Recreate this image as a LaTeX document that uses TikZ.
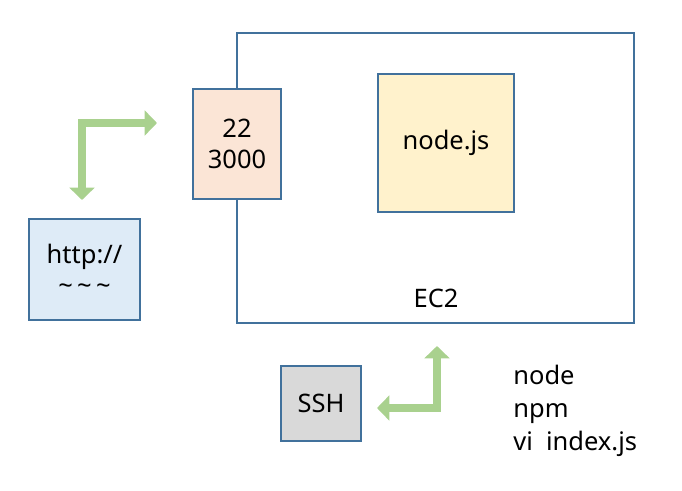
\documentclass[tikz,border=0pt]{standalone}
\usepackage{fontspec}
\setmainfont{Noto Sans}
\usetikzlibrary{arrows.meta}
\definecolor{edge}{HTML}{41719C}
\definecolor{port}{HTML}{FBE5D6}
\definecolor{engine}{HTML}{FFF2CC}
\definecolor{client}{HTML}{DEEBF7}
\definecolor{shell}{HTML}{D9D9D9}
\definecolor{flow}{HTML}{A9D18E}

\begin{document}
\begin{tikzpicture}[
    x=0.02cm, y=-0.02cm,
    block/.style={draw=edge, line width=1.1pt, text centered, align=center, font=\fontsize{14.5}{18}\selectfont},
    flowarrow/.style={draw=flow, line width=4.5pt, {Triangle[width=14pt,length=7pt]}-{Triangle[width=14pt,length=7pt]}},
]
\useasboundingbox (0,0) rectangle (682,490);

% EC2 instance
\node[block, minimum width=7.94cm, minimum height=5.8cm] (ec2) at (435.5,178) {};
\node[font=\fontsize{14.5}{18}\selectfont] (ec2lbl) at (436,298) {EC2};

% ports and app
\node[block, fill=port, minimum width=1.76cm, minimum height=2.2cm] (ports) at (237,144) {22\\3000};
\node[block, fill=engine, minimum width=2.72cm, minimum height=2.76cm] (app) at (446,143) {node.js};

% client and ssh
\node[block, fill=client, minimum width=2.22cm, minimum height=2.02cm] (http) at (84.5,269.5) {http://\\\textasciitilde\,\textasciitilde\,\textasciitilde};
\node[block, fill=shell, minimum width=1.6cm, minimum height=1.5cm] (ssh) at (321,403.5) {SSH};

% commands
\node[anchor=west, align=left, inner sep=0pt, font=\fontsize{14.5}{18.8}\selectfont] (cmds) at (513,411) {node\\npm\\vi\ \ index.js};

% arrows
\coordinate (webend) at (82,200);
\coordinate (webport) at (157,123);
\draw[flowarrow] (webend) |- (webport);
\coordinate (sshend) at (377,408);
\coordinate (ec2end) at (437,346);
\draw[flowarrow] (sshend) -| (ec2end);

\end{tikzpicture}
\end{document}
